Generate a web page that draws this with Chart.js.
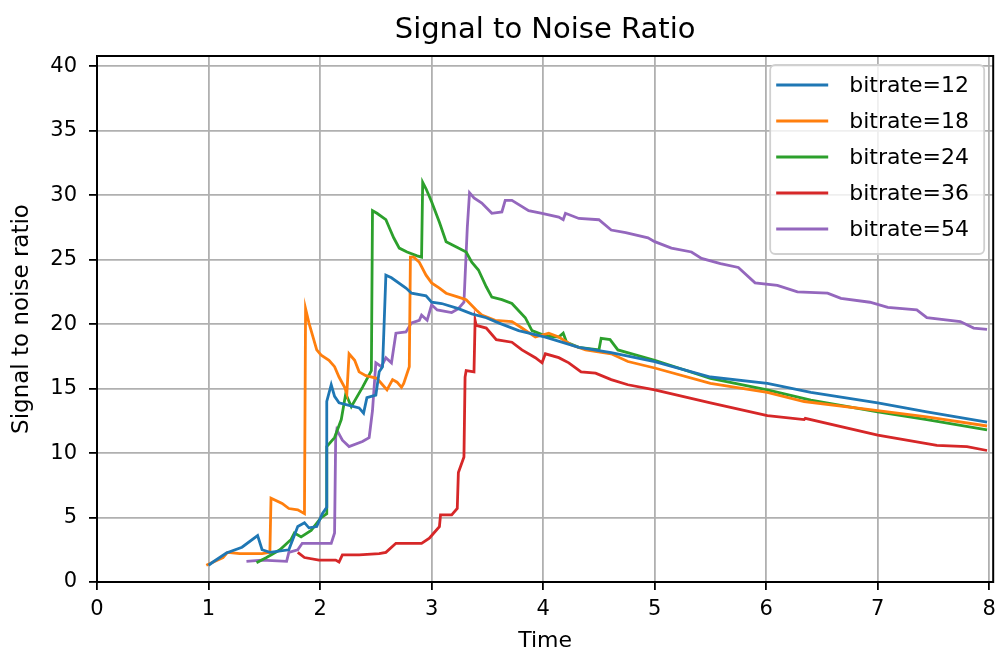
<!DOCTYPE html>
<html>
<head>
<meta charset="utf-8">
<title>Signal to Noise Ratio</title>
<script src="https://cdn.jsdelivr.net/npm/chart.js@4.4.1/dist/chart.umd.min.js"></script>
<style>
  html, body { margin: 0; padding: 0; background: #fff; }
  #wrap { width: 1003px; height: 657px; }
</style>
</head>
<body>
<div id="wrap"><canvas id="snrChart" width="1003" height="657"></canvas></div>
<script>
// one [time, snr] list per bitrate
const bitrateLabels = ['bitrate=12', 'bitrate=18', 'bitrate=24', 'bitrate=36', 'bitrate=54'];
const seriesColors = ['#1f77b4', '#ff7f0e', '#2ca02c', '#d62728', '#9467bd'];
const chartTitle = 'Signal to Noise Ratio';

const snr12 = [
  [1.00, 1.3], [1.04, 1.55], [1.16, 2.25], [1.30, 2.7], [1.44, 3.6], [1.48, 2.5], [1.55, 2.3],
  [1.72, 2.5], [1.80, 4.3], [1.86, 4.6], [1.90, 4.2], [1.97, 4.3], [2.02, 5.3], [2.06, 5.8],
  [2.06, 14.0], [2.10, 15.3], [2.13, 14.4], [2.17, 13.9], [2.26, 13.7], [2.35, 13.5], [2.39, 13.1],
  [2.42, 14.3], [2.50, 14.5], [2.53, 16.3], [2.56, 16.7], [2.57, 19.0], [2.59, 23.8], [2.64, 23.6],
  [2.77, 22.8], [2.82, 22.4], [2.95, 22.2], [3.00, 21.7], [3.09, 21.6], [3.24, 21.2], [3.36, 20.8],
  [3.49, 20.5], [3.60, 20.1], [3.78, 19.5], [4.02, 19.0], [4.32, 18.2], [4.61, 17.8], [5.00, 17.1],
  [5.50, 15.9], [6.01, 15.4], [6.40, 14.7], [7.00, 13.9], [7.44, 13.2], [7.98, 12.4]
];

const snr18 = [
  [0.98, 1.3], [1.13, 1.9], [1.17, 2.3], [1.28, 2.2], [1.48, 2.2], [1.55, 2.3], [1.56, 6.5],
  [1.66, 6.1], [1.72, 5.7], [1.80, 5.6], [1.86, 5.3], [1.87, 21.2], [1.90, 20.1], [1.97, 18.0],
  [2.01, 17.6], [2.08, 17.2], [2.13, 16.7], [2.17, 15.9], [2.22, 15.1], [2.24, 14.6], [2.26, 17.7],
  [2.31, 17.2], [2.35, 16.3], [2.41, 16.0], [2.51, 15.8], [2.55, 15.4], [2.60, 14.9], [2.65, 15.7],
  [2.69, 15.5], [2.73, 15.1], [2.75, 15.4], [2.80, 16.7], [2.81, 25.2], [2.84, 25.2], [2.89, 24.8],
  [2.95, 23.8], [3.00, 23.2], [3.07, 22.8], [3.13, 22.4], [3.24, 22.1], [3.31, 21.9], [3.40, 21.1],
  [3.45, 20.7], [3.57, 20.3], [3.72, 20.2], [3.81, 19.7], [3.93, 19.0], [4.05, 19.3], [4.14, 19.0],
  [4.25, 18.4], [4.38, 18.0], [4.61, 17.7], [4.76, 17.1], [5.00, 16.6], [5.50, 15.4], [6.01, 14.7],
  [6.34, 14.0], [7.00, 13.3], [7.44, 12.8], [7.98, 12.1]
];

const snr24 = [
  [1.43, 1.5], [1.52, 1.9], [1.64, 2.5], [1.74, 3.3], [1.77, 3.8], [1.83, 3.5], [1.92, 4.0],
  [2.01, 5.0], [2.06, 5.3], [2.06, 10.5], [2.13, 11.2], [2.19, 12.6], [2.23, 14.6], [2.28, 13.6],
  [2.38, 15.1], [2.46, 16.4], [2.47, 28.8], [2.51, 28.6], [2.59, 28.1], [2.62, 27.5], [2.66, 26.7],
  [2.71, 25.9], [2.78, 25.6], [2.87, 25.3], [2.91, 25.2], [2.92, 31.0], [2.95, 30.5], [3.00, 29.5],
  [3.07, 27.9], [3.13, 26.4], [3.24, 25.9], [3.31, 25.6], [3.36, 24.8], [3.42, 24.2], [3.49, 22.9],
  [3.54, 22.1], [3.63, 21.9], [3.72, 21.6], [3.84, 20.5], [3.90, 19.5], [4.02, 19.1], [4.14, 19.0],
  [4.18, 19.3], [4.21, 18.6], [4.32, 18.2], [4.50, 18.0], [4.52, 18.9], [4.60, 18.8], [4.67, 18.0],
  [5.00, 17.2], [5.50, 15.8], [6.01, 14.9], [6.40, 14.1], [7.00, 13.2], [7.44, 12.6], [7.98, 11.8]
];

const snr36 = [
  [1.80, 2.3], [1.86, 1.9], [1.99, 1.7], [2.14, 1.7], [2.17, 1.55], [2.20, 2.1], [2.35, 2.1],
  [2.53, 2.2], [2.59, 2.3], [2.68, 3.0], [2.91, 3.0], [2.98, 3.4], [3.02, 3.8], [3.07, 4.3],
  [3.08, 5.2], [3.18, 5.2], [3.23, 5.7], [3.24, 8.5], [3.29, 9.7], [3.30, 15.9], [3.31, 16.4],
  [3.38, 16.3], [3.39, 20.3], [3.40, 19.9], [3.49, 19.7], [3.58, 18.8], [3.72, 18.6], [3.81, 18.0],
  [3.93, 17.4], [3.99, 17.0], [4.02, 17.7], [4.14, 17.4], [4.23, 17.0], [4.34, 16.3], [4.47, 16.2],
  [4.61, 15.7], [4.76, 15.3], [5.00, 14.9], [5.50, 13.9], [6.01, 12.9], [6.34, 12.6], [6.35, 12.7],
  [7.00, 11.4], [7.53, 10.6], [7.80, 10.5], [7.98, 10.2]
];

const snr54 = [
  [1.34, 1.6], [1.48, 1.7], [1.70, 1.6], [1.72, 2.3], [1.80, 2.5], [1.84, 3.0], [2.10, 3.0],
  [2.13, 3.8], [2.14, 11.2], [2.15, 11.8], [2.20, 11.0], [2.26, 10.5], [2.38, 10.9], [2.44, 11.2],
  [2.47, 13.3], [2.50, 17.0], [2.55, 16.7], [2.59, 17.4], [2.64, 17.0], [2.68, 19.3], [2.77, 19.4],
  [2.82, 20.1], [2.89, 20.3], [2.91, 20.7], [2.96, 20.3], [3.00, 21.5], [3.05, 21.1], [3.18, 20.9],
  [3.24, 21.2], [3.29, 21.7], [3.32, 27.5], [3.34, 30.2], [3.38, 29.8], [3.45, 29.4], [3.54, 28.6],
  [3.63, 28.7], [3.66, 29.6], [3.72, 29.6], [3.87, 28.8], [3.99, 28.6], [4.14, 28.3], [4.18, 28.1],
  [4.20, 28.6], [4.32, 28.2], [4.50, 28.1], [4.61, 27.3], [4.74, 27.1], [4.94, 26.7], [5.00, 26.4],
  [5.15, 25.9], [5.33, 25.6], [5.42, 25.1], [5.59, 24.7], [5.75, 24.4], [5.90, 23.2], [6.10, 23.0],
  [6.28, 22.5], [6.55, 22.4], [6.67, 22.0], [6.93, 21.7], [7.09, 21.3], [7.35, 21.1], [7.44, 20.5],
  [7.74, 20.2], [7.86, 19.7], [7.98, 19.6]
];

const allSeries = [snr12, snr18, snr24, snr36, snr54];
const timeTicks = [0, 1, 2, 3, 4, 5, 6, 7, 8];
const snrTicks = [0, 5, 10, 15, 20, 25, 30, 35, 40];

Chart.defaults.font.family = '"DejaVu Sans", sans-serif';
Chart.defaults.color = '#000';

// title centred over the plot area, plus the top and right spines
const frame = {
  id: 'frame',
  afterDatasetsDraw(chart) {
    const { ctx, chartArea: a } = chart;
    ctx.save();
    ctx.strokeStyle = '#000';
    ctx.lineWidth = 2;
    ctx.strokeRect(a.left, a.top, a.right - a.left, a.bottom - a.top);
    ctx.fillStyle = '#000';
    ctx.font = '29px "DejaVu Sans"';
    ctx.textAlign = 'center';
    ctx.textBaseline = 'middle';
    ctx.fillText(chartTitle, (a.left + a.right) / 2, 30);
    ctx.restore();
  }
};

// boxed legend in the upper right corner of the plot
const legendBox = {
  id: 'legendBox',
  afterDraw(chart) {
    const { ctx, chartArea: a } = chart;
    const w = 214, h = 189, rowH = 36;
    const left = a.right - 9 - w, top = a.top + 9;
    ctx.save();
    ctx.fillStyle = 'rgba(255,255,255,0.8)';
    ctx.strokeStyle = '#d0d0d0';
    ctx.lineWidth = 1.8;
    ctx.beginPath();
    ctx.roundRect(left, top, w, h, 5);
    ctx.fill();
    ctx.stroke();
    ctx.font = '22px "DejaVu Sans"';
    ctx.textBaseline = 'middle';
    chart.data.datasets.forEach((d, i) => {
      const y = top + 20 + i * rowH;
      ctx.strokeStyle = d.borderColor;
      ctx.lineWidth = 3;
      ctx.beginPath();
      ctx.moveTo(left + 6, y);
      ctx.lineTo(left + 58, y);
      ctx.stroke();
      ctx.fillStyle = '#000';
      ctx.fillText(d.label, left + 79, y + 1);
    });
    ctx.restore();
  }
};

const ctx = document.getElementById('snrChart').getContext('2d');
new Chart(ctx, {
  type: 'line',
  data: {
    datasets: allSeries.map((pts, i) => ({
      label: bitrateLabels[i],
      data: pts.map(([x, y]) => ({ x, y })),
      borderColor: seriesColors[i],
      backgroundColor: seriesColors[i],
      borderWidth: 2.8,
      pointRadius: 0,
      tension: 0,
      fill: false
    }))
  },
  options: {
    responsive: false,
    animation: false,
    layout: { padding: { top: 56, right: 7 } },
    plugins: {
      legend: { display: false },
      tooltip: { enabled: false },
      title: { display: false }
    },
    scales: {
      x: {
        type: 'linear',
        min: 0,
        max: 8.035,
        afterFit(scale) { scale.height = 75; },
        afterBuildTicks(scale) { scale.ticks = timeTicks.map(v => ({ value: v })); },
        ticks: { font: { size: 21 }, padding: 7, maxRotation: 0 },
        grid: { color: '#b0b0b0', lineWidth: 1.8, tickColor: '#000', tickLength: 8, tickWidth: 1.8 },
        border: { display: true, color: '#000', width: 2 },
        title: { display: true, text: 'Time', font: { size: 22 }, padding: { top: 0, bottom: 3 } }
      },
      y: {
        type: 'linear',
        min: 0,
        max: 40.8,
        afterFit(scale) { scale.width = 97; },
        afterBuildTicks(scale) { scale.ticks = snrTicks.map(v => ({ value: v })); },
        ticks: { font: { size: 21 }, padding: 12 },
        grid: { color: '#b0b0b0', lineWidth: 1.8, tickColor: '#000', tickLength: 8, tickWidth: 1.8 },
        border: { display: true, color: '#000', width: 2 },
        title: { display: true, text: 'Signal to noise ratio', font: { size: 23 }, padding: { top: 8, bottom: 0 } }
      }
    }
  },
  plugins: [frame, legendBox]
});
</script>
</body>
</html>
